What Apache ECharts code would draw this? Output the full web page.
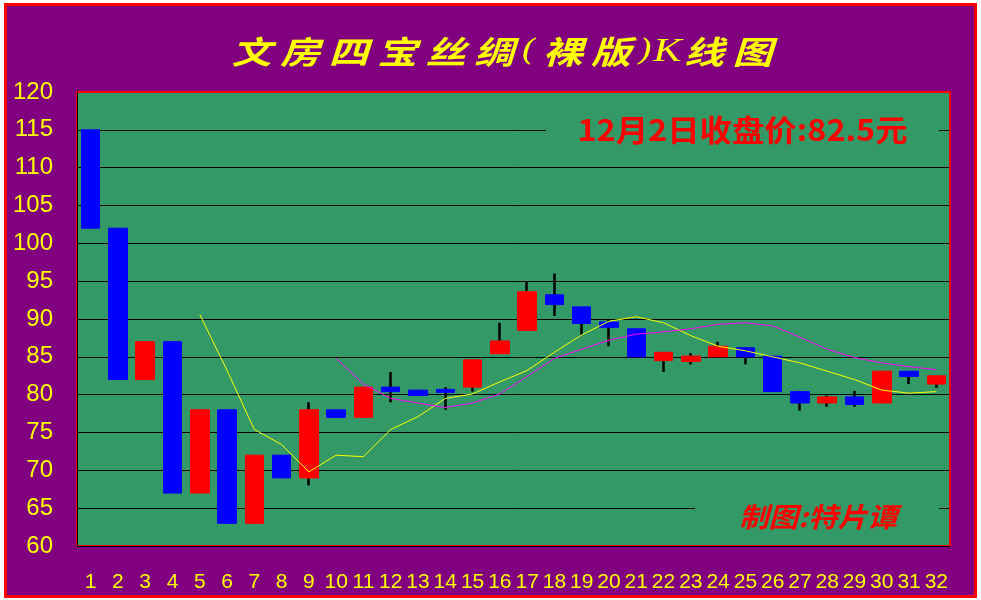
<!DOCTYPE html>
<html>
<head>
<meta charset="utf-8">
<script src="https://cdn.jsdelivr.net/npm/echarts@6/dist/echarts.min.js"></script>
<style>
html,body{margin:0;padding:0;background:#ffffff;}
#frame{position:absolute;left:4px;top:3px;width:973px;height:595px;box-sizing:border-box;border:3px solid #ff0000;background:#800080;}
#c{position:absolute;left:0;top:0;width:981px;height:600px;}
</style>
</head>
<body>
<div id="frame"></div>
<div id="c"></div>
<script>
// ---- data ----
const categories = ['1','2','3','4','5','6','7','8','9','10','11','12','13','14','15','16','17','18','19','20','21','22','23','24','25','26','27','28','29','30','31','32'];
const openPrices  = [115, 102, 82, 87, 67, 78, 63, 72, 69, 78, 77, 81, 80.6, 80.7, 81, 85.4, 88.5, 93.2, 91.6, 89.6, 88.7, 84.5, 84.4, 85, 86.2, 85.1, 80.4, 78.9, 79.7, 78.9, 83.1, 81.4];
const closePrices = [102, 82, 87, 67, 78, 63, 72, 69, 78, 77, 81, 80.4, 79.9, 80.3, 84.6, 87.1, 93.6, 91.9, 89.4, 88.9, 85, 85.6, 85.1, 86.4, 85, 80.4, 78.9, 79.7, 78.7, 83.1, 82.4, 82.5];
const lowPrices   = [102, 82, 82, 67, 67, 63, 63, 69, 68, 77, 77, 79, 79.9, 78, 80.4, 85.4, 88.5, 90.4, 87.9, 86.4, 85, 83, 84, 85, 84, 80.4, 77.9, 78.4, 78.4, 78.9, 81.4, 80.9];
const highPrices  = [115, 102, 87, 87, 78, 78, 72, 72, 79, 78, 81, 83, 80.6, 81, 84.6, 89.5, 95, 96, 91.6, 89.9, 88.7, 85.6, 85.5, 87, 86.2, 85.1, 80.5, 79.9, 80.5, 83.1, 83.1, 82.5];
const ma5Line  = [null, null, null, null, 90.6, 83.2, 75.4, 73.4, 69.8, 72.0, 71.8, 75.4, 77.1, 79.5, 80.1, 81.7, 83.2, 85.6, 87.9, 89.7, 90.3, 89.5, 87.8, 86.4, 85.8, 85.0, 84.2, 83.1, 82.0, 80.6, 80.2, 80.4];
const ma10Line = [null, null, null, null, null, null, null, null, null, 84.8, 81.4, 79.5, 78.9, 78.3, 78.9, 80.1, 82.4, 84.8, 86.0, 87.2, 88.0, 88.3, 88.7, 89.3, 89.5, 89.1, 87.6, 86.0, 84.9, 84.2, 83.7, 83.3];
const yMin = 60, yMax = 120, yStep = 5;
const titleText = '文房四宝丝绸(裸版)K线图';
const noteText = '12月2日收盘价:82.5元';
const signText = '制图:特片谭';

// ---- build ----
const wickData = categories.map((_, i) => {
  const m = (openPrices[i] + closePrices[i]) / 2;
  return [m, m, lowPrices[i], highPrices[i]];
});
const bodyData = categories.map((_, i) => {
  const o = openPrices[i], c = closePrices[i];
  return [o, c, Math.min(o, c), Math.max(o, c)];
});

function richTitle(str) {
  return Array.from(str).map(ch => {
    const k = /[()]/.test(ch) ? 'p' : (/[A-Za-z]/.test(ch) ? 'k' : 'c');
    return '{' + k + '|' + ch + '}';
  }).join('');
}
const tBase = {fontFamily: 'Noto Sans CJK SC', fontSize: 32, fontWeight: 'bold', fontStyle: 'italic', fill: '#FFFF00', color: '#FFFF00', align: 'center'};

const chart = echarts.init(document.getElementById('c'), null, {renderer: 'canvas'});
chart.setOption({
  animation: false,
  backgroundColor: 'transparent',
  grid: {left: 77, right: 31, top: 92, bottom: 54, show: true, backgroundColor: '#339966', borderColor: '#FF0000', borderWidth: 2},
  xAxis: {
    type: 'category', data: categories, boundaryGap: true,
    axisLine: {show: true, lineStyle: {color: '#000000', width: 1}},
    axisTick: {show: false},
    splitLine: {show: false},
    axisLabel: {interval: 0, color: '#FFFF00', fontSize: 21, fontFamily: "'Liberation Sans Narrow', 'Arial Narrow', 'Liberation Sans', sans-serif", margin: 26}
  },
  yAxis: {
    type: 'value', min: yMin, max: yMax, interval: yStep,
    axisLine: {show: true, lineStyle: {color: '#000000', width: 1}},
    axisTick: {show: false},
    splitLine: {show: true, showMinLine: false, showMaxLine: false, lineStyle: {color: '#000000', width: 1}},
    axisLabel: {color: '#FFFF00', fontSize: 24, fontFamily: "'Liberation Sans', Arial, sans-serif", margin: 24}
  },
  series: [
    {
      type: 'candlestick', name: 'wick', data: wickData, barWidth: 1, z: 2,
      itemStyle: {color: '#000000', color0: '#000000', borderColor: '#000000', borderColor0: '#000000', borderColorDoji: '#000000', borderWidth: 2.5},
      emphasis: {disabled: true}
    },
    {
      type: 'candlestick', name: 'body', data: bodyData, barWidth: 19, z: 3,
      itemStyle: {color: '#FF0000', color0: '#0000FF', borderColor: '#FF0000', borderColor0: '#0000FF', borderWidth: 1},
      emphasis: {disabled: true}
    },
    {
      type: 'line', name: 'MA5', data: ma5Line, showSymbol: false, symbol: 'none', z: 5,
      lineStyle: {color: '#FFFF00', width: 1}, connectNulls: false
    },
    {
      type: 'line', name: 'MA10', data: ma10Line, showSymbol: false, symbol: 'none', z: 5,
      lineStyle: {color: '#FF00FF', width: 1}
    }
  ],
  graphic: [
    {
      type: 'text', x: 502, y: 52, scaleX: 1.25, z: 100,
      style: {
        text: richTitle(titleText),
        align: 'center', verticalAlign: 'middle', textAlign: 'center', textVerticalAlign: 'middle',
        rich: {
          c: Object.assign({}, tBase, {width: 38.8}),
          p: Object.assign({}, tBase, {width: 16, fontWeight: 'normal', fontFamily: 'DejaVu Serif', fontSize: 30}),
          k: Object.assign({}, tBase, {width: 19.5, fontWeight: 'normal', fontFamily: 'Liberation Serif', fontSize: 34})
        }
      }
    },
    {type: 'rect', z: 90, shape: {x: 546, y: 116, width: 393, height: 28}, style: {fill: '#339966'}},
    {
      type: 'text', x: 742.5, y: 129.5, scaleX: 1.08, z: 100,
      style: {text: noteText, fontFamily: 'Noto Sans CJK SC', fontSize: 30, fontWeight: 'bold', fill: '#FF0000',
        align: 'center', verticalAlign: 'middle', textAlign: 'center', textVerticalAlign: 'middle'}
    },
    {type: 'rect', z: 90, shape: {x: 695, y: 493, width: 244, height: 32}, style: {fill: '#339966'}},
    {
      type: 'text', x: 818, y: 517, scaleX: 1.1, z: 100,
      style: {text: signText, fontFamily: 'Noto Sans CJK SC', fontSize: 27, fontWeight: 'bold', fontStyle: 'italic', fill: '#FF0000',
        align: 'center', verticalAlign: 'middle', textAlign: 'center', textVerticalAlign: 'middle'}
    }
  ]
});
</script>
</body>
</html>
